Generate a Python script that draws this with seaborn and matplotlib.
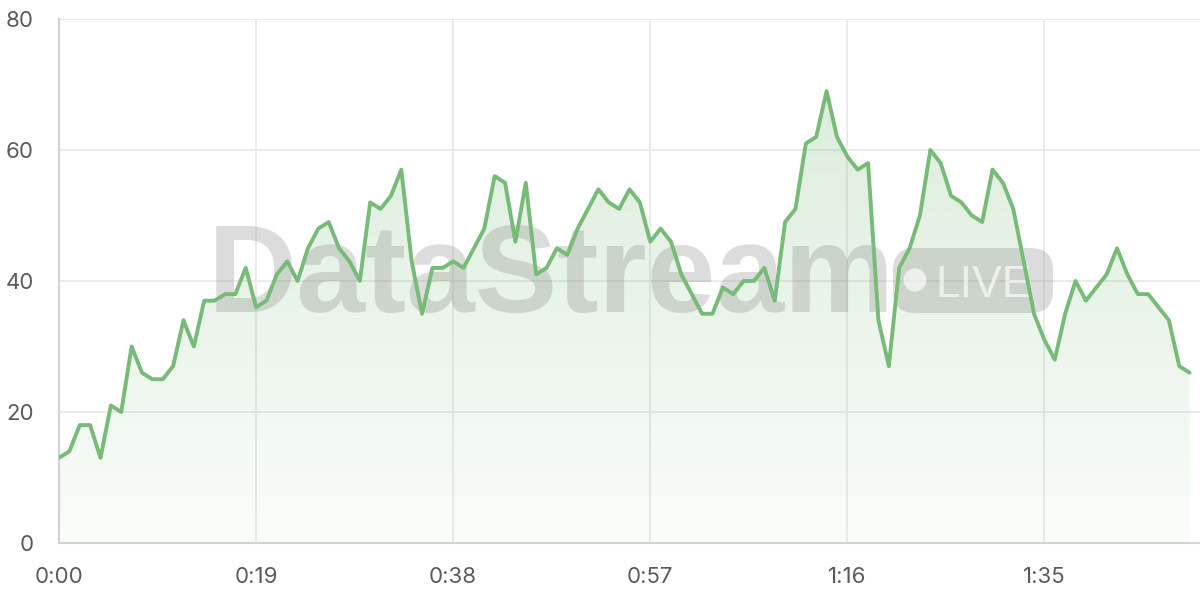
"""Viewer count line chart with gradient fill and DataStream watermark."""

import numpy as np
import matplotlib
matplotlib.use("Agg")
from matplotlib import pyplot as plt
from matplotlib import transforms
from matplotlib.patches import FancyBboxPatch, Circle
import seaborn as sns

# data: one point per second
seconds = list(range(110))
viewers = [13, 14, 18, 18, 13, 21, 20, 30, 26, 25,
           25, 27, 34, 30, 37, 37, 38, 38, 42, 36,
           37, 41, 43, 40, 45, 48, 49, 45, 43, 40,
           52, 51, 53, 57, 43, 35, 42, 42, 43, 42,
           45, 48, 56, 55, 46, 55, 41, 42, 45, 44,
           48, 51, 54, 52, 51, 54, 52, 46, 48, 46,
           41, 38, 35, 35, 39, 38, 40, 40, 42, 37,
           49, 51, 61, 62, 69, 62, 59, 57, 58, 34,
           27, 42, 45, 50, 60, 58, 53, 52, 50, 49,
           57, 55, 51, 43, 35, 31, 28, 35, 40, 37,
           39, 41, 45, 41, 38, 38, 36, 34, 27, 26]
x_ticks = [0, 19, 38, 57, 76, 95]
y_ticks = [0, 20, 40, 60, 80]

GREEN = "#78bb78"
GRID = "#e8e8e8"
SPINE = "#d2d2d2"
LABEL = "#5a5a5a"
MARK = "#808080"

sns.set_theme(style="white")
plt.rcParams["font.family"] = ["Inter", "DejaVu Sans"]

fig = plt.figure(figsize=(12, 6), dpi=100)
ax = fig.add_axes([59 / 1200, 57 / 600, 1 - 59 / 1200, 524 / 600])

# gradient fill under the line
poly = ax.fill_between(seconds, viewers, 0, color="none", linewidth=0)
rgb = matplotlib.colors.to_rgb(GREEN)
grad = np.zeros((256, 1, 4))
grad[..., :3] = rgb
grad[..., 3] = np.linspace(0.30, 0.04, 256).reshape(-1, 1)
im = ax.imshow(grad, extent=[0, seconds[-1], 0, 80], origin="upper",
               aspect="auto", zorder=1)
im.set_clip_path(poly.get_paths()[0], transform=ax.transData)

sns.lineplot(x=seconds, y=viewers, color=GREEN, linewidth=2.8, ax=ax, zorder=4)

# watermark, placed in pixel coordinates (origin top-left)
px = transforms.Affine2D().scale(1 / 1200, -1 / 600).translate(0, 1) + fig.transFigure
ax.text(551, 312, "DataStream", transform=px, ha="center", va="baseline",
        fontsize=89, fontweight="bold", family="Liberation Sans",
        color=MARK, alpha=0.27, zorder=3, clip_on=False)
pill = FancyBboxPatch((893, 248), 160, 65, boxstyle="round,pad=0,rounding_size=22",
                      transform=px, facecolor=MARK, edgecolor="none",
                      alpha=0.27, zorder=3, clip_on=False)
ax.add_patch(pill)
ax.add_patch(Circle((915, 280), 11.5, transform=px, facecolor="white",
                    edgecolor="none", alpha=0.65, zorder=3, clip_on=False))
ax.text(935, 297, "LIVE", transform=px, ha="left", va="baseline",
        fontsize=32, family="Liberation Sans", color="white",
        alpha=0.65, zorder=3, clip_on=False)

ax.set_xlim(0, 110)
ax.set_ylim(0, 80)
ax.set_xticks(x_ticks)
ax.set_xticklabels([f"{t // 60}:{t % 60:02d}" for t in x_ticks])
ax.set_yticks(y_ticks)
ax.grid(True, color=GRID, linewidth=1.2, zorder=0)
ax.set_axisbelow(True)
for side in ["top", "right"]:
    ax.spines[side].set_visible(False)
for side in ["left", "bottom"]:
    ax.spines[side].set_color(SPINE)
    ax.spines[side].set_linewidth(1.5)
ax.tick_params(axis="both", length=11, width=1.2, color=GRID,
               labelcolor=LABEL, labelsize=16)
ax.tick_params(axis="y", pad=7)
ax.tick_params(axis="x", pad=6)

plt.savefig("out.png", dpi=100)
